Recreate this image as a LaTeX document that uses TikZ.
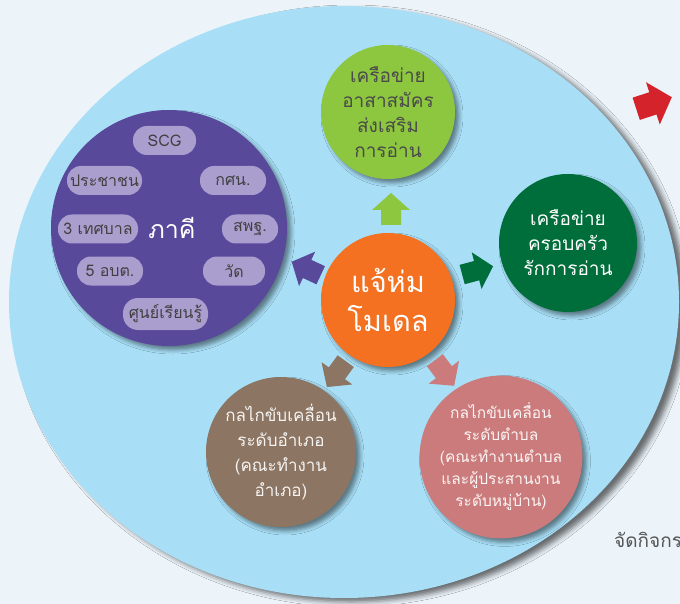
\documentclass[tikz,border=0pt]{standalone}
\usepackage{fontspec}
\newfontfamily\thai[Script=Thai]{Loma}
\usetikzlibrary{shadows.blur}
\definecolor{bg}{HTML}{ECF4FA}
\definecolor{bigblue}{HTML}{A8DFF7}
\definecolor{purp}{HTML}{58499B}
\definecolor{pill}{HTML}{A99ECE}
\definecolor{pilltext}{HTML}{404040}
\definecolor{lime}{HTML}{8DC63F}
\definecolor{limetext}{HTML}{4A4A4A}
\definecolor{dkgreen}{HTML}{006E3B}
\definecolor{orng}{HTML}{F37121}
\definecolor{brwn}{HTML}{8C7562}
\definecolor{pnk}{HTML}{CB7B7B}
\definecolor{redarr}{HTML}{D4232B}
\definecolor{graytext}{HTML}{555555}
\begin{document}
\begin{tikzpicture}[x=1pt,y=-1pt,
  circ/.style={circle,inner sep=0pt,align=center,
    blur shadow={shadow xshift=4pt,shadow yshift=-4pt,shadow blur radius=4pt,shadow opacity=45}},
  pillbox/.style={rectangle,rounded corners=14pt,fill=pill,minimum height=29pt,inner sep=0pt,
    text=pilltext,font=\thai\fontsize{16}{18}\selectfont},
  blockarrow/.pic={\fill[pic actions] (-16,-10) -- (-1,-10) -- (-1,-19) -- (16,0) -- (-1,19) -- (-1,10) -- (-16,10) -- cycle;}
]
\useasboundingbox (0,0) rectangle (680,604);
\fill[bg] (0,0) rectangle (680,604);
\fill[bigblue,blur shadow={shadow xshift=7pt,shadow yshift=-4pt,shadow blur radius=5pt,shadow opacity=55}]
  (344,302) ellipse [x radius=335, y radius=296];

% partners circle
\node[circ,fill=purp,minimum size=236pt] (partners) at (169,228) {};
\node[text=white,font=\thai\fontsize{25}{30}\selectfont] (phakhi) at (172,228) {ภาคี};
\node[pillbox,minimum width=63pt] (scg) at (164.5,140.5) {SCG};
\node[pillbox,minimum width=75pt] (people) at (104.5,180.5) {ประชาชน};
\node[pillbox,minimum width=66pt] (kosn) at (233,180.5) {กศน.};
\node[pillbox,minimum width=80pt] (muni) at (98,229) {3 เทศบาล};
\node[pillbox,minimum width=56pt] (spt) at (250,229) {สพฐ.};
\node[pillbox,minimum width=66pt] (obt) at (110,271) {5 อบต.};
\node[pillbox,minimum width=62pt] (wat) at (234,271) {วัด};
\node[pillbox,minimum width=85pt,minimum height=32pt,rounded corners=15pt] (center) at (165.5,314) {ศูนย์เรียนรู้};

% other circles
\node[circ,fill=lime,minimum size=134pt,text=limetext,font=\thai\fontsize{19}{25}\selectfont] (volunteer) at (388,112)
  {เครือข่าย\\อาสาสมัคร\\ส่งเสริม\\การอ่าน};
\node[circ,fill=dkgreen,minimum size=138pt,text=white,font=\thai\fontsize{19}{25}\selectfont] (family) at (568,243)
  {เครือข่าย\\ครอบครัว\\รักการอ่าน};
\node[circ,fill=orng,minimum size=134pt,text=white,font=\thai\fontsize{29}{39}\selectfont] (model) at (388,300)
  {แจ้ห่ม\\โมเดล};
\node[circ,fill=brwn,minimum size=150pt,text=white!92!brwn,font=\thai\fontsize{17}{25}\selectfont] (district) at (281,452)
  {กลไกขับเคลื่อน\\ระดับอำเภอ\\(คณะทำงาน\\อำเภอ)};
\node[circ,fill=pnk,minimum size=152pt,text=white!92!pnk,font=\thai\fontsize{15.5}{22}\selectfont] (subdistrict) at (501,457)
  {กลไกขับเคลื่อน\\ระดับตำบล\\(คณะทำงานตำบล\\และผู้ประสานงาน\\ระดับหมู่บ้าน)};

% block arrows
\pic[fill=lime,rotate=90] at (391,209) {blockarrow};
\pic[fill=purp,rotate=155] at (306.2,268.5) {blockarrow};
\pic[fill=dkgreen,rotate=15] at (477.6,270.4) {blockarrow};
\pic[fill=brwn,rotate=234] at (336.3,374.1) {blockarrow};
\pic[fill=pnk,rotate=-53] at (444.5,373) {blockarrow};
\pic[fill=redarr,rotate=18,scale=1.17] at (654,103) {blockarrow};

\node[anchor=west,text=graytext,font=\thai\fontsize{19}{22}\selectfont,inner sep=0pt] (activity) at (614,540) {จัดกิจกร};
\end{tikzpicture}
\end{document}
